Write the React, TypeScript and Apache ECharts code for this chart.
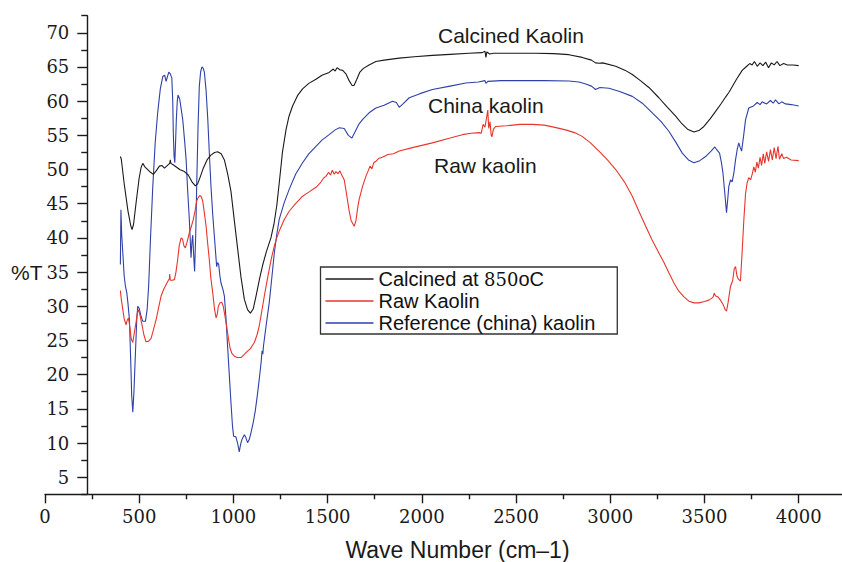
import React, { useEffect, useRef } from "react";
import * as echarts from "echarts";

// Wavenumber (cm-1), %T pairs
const calcined: [number, number][] = [
  [400, 51.9], [405, 51.5], [420, 48], [440, 44], [455, 41.8], [462, 41.2], [470, 42], [485, 45.5],
  [500, 48.8], [510, 50.3], [519, 50.9], [530, 50.4], [545, 50.0], [560, 49.6], [575, 49.3], [590, 49.8],
  [607, 50.5], [620, 50.6], [634, 50.2], [650, 50.6], [662, 50.9], [665, 51.4], [668, 50.9], [680, 50.7],
  [695, 50.4], [715, 50.0], [740, 49.7], [760, 49.2], [780, 48.2], [798, 47.6], [810, 47.9], [825, 49.0],
  [840, 50.2], [860, 51.4], [880, 52.1], [900, 52.5], [916, 52.6], [935, 52.3], [952, 51.4], [970, 49.3],
  [987, 46.8], [1005, 42.5], [1022, 38.5], [1040, 34.3], [1058, 31.0], [1075, 29.5], [1090, 29.0], [1105, 29.6],
  [1120, 31.5], [1140, 34.2], [1155, 36.0], [1175, 38.0], [1199, 40.0], [1215, 42.0], [1230, 44.7], [1245, 48.5],
  [1260, 52.5], [1279, 55.8], [1295, 57.8], [1314, 59.3], [1340, 60.8], [1367, 61.8], [1400, 62.6], [1438, 63.2],
  [1470, 63.8], [1508, 64.2], [1530, 64.7], [1540, 64.4], [1550, 64.9], [1565, 64.6], [1580, 64.5], [1597, 64.0],
  [1614, 63.0], [1630, 62.3], [1640, 62.3], [1655, 63.2], [1670, 64.2], [1690, 64.8], [1720, 65.3], [1756, 65.8],
  [1800, 66.0], [1880, 66.3], [1960, 66.5], [2056, 66.7], [2150, 66.85], [2250, 67.0], [2320, 67.1], [2335, 67.3],
  [2340, 66.4], [2345, 67.2], [2360, 66.9], [2380, 67.0], [2500, 67.0], [2600, 67.0], [2700, 66.95], [2780, 66.8],
  [2851, 66.4], [2900, 66.0], [2922, 65.6], [2940, 65.55], [2960, 65.6], [3029, 65.1], [3080, 64.5], [3117, 63.9],
  [3160, 63.0], [3205, 62.0], [3258, 60.5], [3300, 59.2], [3347, 57.8], [3380, 56.7], [3410, 55.9], [3444, 55.5],
  [3470, 55.7], [3497, 56.3], [3530, 57.4], [3559, 58.5], [3590, 59.7], [3612, 60.6], [3630, 61.3], [3647, 62.1],
  [3670, 63.2], [3700, 64.5], [3720, 65.0], [3740, 65.5], [3753, 65.3], [3765, 65.8], [3780, 65.1], [3795, 65.6],
  [3810, 65.2], [3825, 65.7], [3840, 64.9], [3855, 65.6], [3870, 65.3], [3885, 65.8], [3900, 65.2], [3920, 65.5],
  [3940, 65.3], [3970, 65.3], [4000, 65.2],
];

const rawKaolin: [number, number][] = [
  [400, 32.3], [405, 31.0], [413, 29.5], [420, 28.2], [430, 27.3], [437, 28.0], [443, 28.3], [450, 27.0],
  [458, 25.2], [466, 24.7], [475, 26.3], [484, 27.8], [490, 29.0], [497, 29.5], [505, 28.6], [516, 27.1],
  [525, 25.8], [536, 24.8], [550, 24.9], [563, 25.3], [575, 26.5], [590, 28.1], [603, 29.8], [616, 31.5],
  [630, 32.5], [643, 33.2], [655, 33.8], [660, 34.0], [662, 34.7], [665, 33.8], [675, 33.8], [687, 33.9],
  [695, 35.0], [704, 36.8], [712, 38.8], [722, 40.0], [730, 39.8], [738, 38.8], [745, 38.55], [755, 39.5],
  [766, 40.75], [777, 41.7], [787, 42.7], [796, 43.9], [805, 45.4], [815, 46.0], [823, 46.2], [830, 46.0],
  [837, 45.4], [845, 43.8], [855, 41.7], [863, 39.3], [872, 36.8], [880, 34.2], [890, 32.0], [900, 29.5],
  [908, 28.3], [914, 28.8], [920, 30.0], [929, 30.5], [938, 30.6], [946, 30.0], [955, 28.6], [964, 27.1],
  [973, 25.4], [982, 23.9], [992, 23.1], [1005, 22.7], [1020, 22.5], [1040, 22.5], [1055, 22.9], [1075, 23.45],
  [1090, 23.8], [1111, 24.7], [1125, 25.8], [1137, 27.1], [1150, 29.2], [1164, 31.5], [1177, 33.5], [1190, 35.4],
  [1203, 37.2], [1217, 38.8], [1230, 40.0], [1243, 41.0], [1270, 42.7], [1296, 43.9], [1330, 45.0], [1367, 46.1],
  [1400, 46.7], [1438, 47.4], [1460, 48.0], [1480, 48.8], [1491, 49.0], [1505, 49.6], [1515, 49.2], [1525, 49.9],
  [1535, 49.3], [1544, 49.7], [1555, 49.4], [1565, 49.8], [1575, 49.2], [1588, 48.5], [1600, 46.5], [1614, 44.0],
  [1625, 42.5], [1641, 41.7], [1650, 42.5], [1660, 44.5], [1667, 45.6], [1685, 47.5], [1703, 49.0], [1715, 49.8],
  [1725, 50.5], [1735, 50.1], [1745, 51.0], [1756, 51.2], [1770, 51.6], [1790, 51.8], [1820, 52.2], [1850, 52.3],
  [1880, 52.7], [1950, 53.2], [2056, 53.9], [2150, 54.6], [2215, 55.1], [2260, 55.3], [2304, 55.4], [2315, 55.3],
  [2325, 56.6], [2335, 56.2], [2343, 57.5], [2350, 58.7], [2355, 56.0], [2362, 57.0], [2368, 55.0], [2372, 54.8],
  [2380, 55.9], [2392, 56.3], [2450, 56.4], [2520, 56.6], [2586, 56.6], [2650, 56.5], [2700, 56.2], [2763, 55.8],
  [2810, 55.4], [2851, 54.85], [2895, 53.9], [2940, 52.7], [2985, 51.4], [3029, 50.0], [3075, 48.2], [3117, 46.1],
  [3150, 44.0], [3188, 41.7], [3220, 39.8], [3258, 37.8], [3285, 36.4], [3311, 34.9], [3340, 33.3], [3364, 32.2],
  [3390, 31.4], [3417, 30.75], [3445, 30.5], [3470, 30.5], [3500, 30.7], [3523, 30.9], [3545, 31.3], [3552, 31.9],
  [3559, 31.5], [3570, 31.4], [3585, 30.9], [3600, 30.2], [3610, 29.5], [3617, 29.3], [3625, 30.5], [3638, 32.9],
  [3650, 33.8], [3658, 35.5], [3665, 35.8], [3672, 34.5], [3679, 34.0], [3691, 33.7], [3700, 38.0], [3709, 42.7],
  [3718, 46.5], [3726, 48.0], [3735, 48.8], [3745, 48.5], [3753, 49.3], [3762, 50.4], [3770, 49.6], [3778, 51.1],
  [3786, 50.2], [3795, 51.8], [3803, 50.6], [3812, 52.3], [3820, 50.9], [3830, 52.6], [3840, 51.2], [3850, 52.9],
  [3860, 51.4], [3870, 53.2], [3880, 51.6], [3890, 53.4], [3898, 51.5], [3910, 52.3], [3920, 51.6], [3935, 51.8],
  [3960, 51.4], [4000, 51.3],
];

const chinaKaolin: [number, number][] = [
  [400, 36.1], [403, 44.1], [407, 40.5], [413, 37.8], [420, 34.5], [427, 32.9], [434, 32.0], [440, 30.5],
  [448, 28.1], [455, 22], [460, 17], [466, 14.5], [472, 17.5], [480, 23.2], [487, 28], [492, 30.0],
  [500, 29.7], [510, 28.5], [519, 27.8], [533, 27.8], [542, 29.5], [550, 32.9], [560, 40], [572, 47.5],
  [585, 54], [598, 58.3], [612, 61.8], [625, 63.6], [635, 63.8], [643, 62.9], [650, 63.6], [657, 64.25],
  [665, 64.0], [673, 63.4], [678, 60], [681, 55.35], [685, 52], [689, 51.0], [693, 54], [697, 57.3],
  [702, 60.0], [706, 60.9], [715, 60.3], [731, 57.3], [740, 54.5], [749, 51.45], [757, 47], [766, 42.7],
  [775, 37.1], [780, 39.5], [784, 40.4], [789, 37.5], [794, 35.1], [800, 40.5], [805, 47.5], [812, 56],
  [819, 62.2], [826, 64.3], [833, 65.0], [840, 64.8], [846, 64.2], [855, 61.5], [864, 57.3], [872, 52.5],
  [881, 47.5], [890, 43.5], [899, 40.2], [911, 35.8], [916, 36.4], [922, 36.1], [928, 34.5], [934, 33.4],
  [945, 32.4], [952, 31.5], [960, 28.5], [969, 24.2], [978, 20], [987, 15.9], [995, 12.5], [1001, 11.0],
  [1013, 10.9], [1022, 10.0], [1031, 8.7], [1038, 9.8], [1045, 10.5], [1058, 11.2], [1066, 10.8], [1075, 10.05],
  [1084, 10.5], [1093, 11.5], [1105, 13.0], [1116, 14.7], [1127, 17.0], [1137, 19.3], [1147, 21.8], [1152, 23.5],
  [1156, 23.0], [1160, 24.3], [1175, 27.5], [1190, 30.5], [1205, 34.5], [1217, 37.8], [1230, 40.5], [1243, 42.7],
  [1270, 45.2], [1296, 47.1], [1330, 49.3], [1367, 51.0], [1400, 52.3], [1438, 53.4], [1470, 54.3], [1508, 55.1],
  [1540, 55.8], [1562, 56.1], [1588, 56.0], [1610, 55.0], [1629, 54.6], [1645, 55.5], [1665, 56.6], [1685, 57.3],
  [1720, 58.3], [1756, 59.0], [1800, 59.4], [1844, 60.0], [1865, 59.8], [1880, 59.1], [1900, 59.6], [1933, 60.5],
  [1990, 61.1], [2056, 61.7], [2150, 62.2], [2233, 62.65], [2300, 62.8], [2335, 63.0], [2340, 62.6], [2350, 62.9],
  [2420, 63.0], [2500, 63.0], [2650, 63.0], [2780, 62.95], [2834, 62.8], [2870, 62.5], [2900, 62.2], [2922, 61.7],
  [2945, 62.0], [2993, 61.9], [3050, 61.4], [3117, 60.7], [3170, 59.7], [3223, 58.3], [3270, 57.0], [3311, 55.6],
  [3350, 53.9], [3382, 52.4], [3415, 51.4], [3444, 51.0], [3475, 51.3], [3506, 51.9], [3535, 52.7], [3555, 53.3],
  [3565, 52.9], [3580, 52.4], [3590, 51.0], [3598, 49.5], [3608, 46.5], [3617, 43.7], [3623, 45.5], [3629, 47.5],
  [3638, 48.5], [3647, 48.2], [3656, 49.5], [3665, 51.45], [3674, 53.0], [3682, 53.9], [3690, 53.2], [3697, 52.7],
  [3708, 55.0], [3718, 57.3], [3735, 59.0], [3760, 59.3], [3780, 59.8], [3795, 59.5], [3806, 59.9], [3830, 59.6],
  [3850, 60.1], [3865, 59.7], [3877, 60.2], [3895, 59.6], [3910, 59.9], [3930, 59.6], [3960, 59.5], [4000, 59.3],
];

const seriesNames = ["Calcined at 850oC", "Raw Kaolin", "Reference (china) kaolin"];
const seriesColors = ["#1a1a1a", "#e8352c", "#2f40a8"];
const xLastLabel = 4000;
const yMajorTicks = [5, 10, 15, 20, 25, 30, 35, 40, 45, 50, 55, 60, 65, 70];
const yMinorTicks = [2.5, 7.5, 12.5, 17.5, 22.5, 27.5, 32.5, 37.5, 42.5, 47.5, 52.5, 57.5, 62.5, 67.5, 72.5];
const curveLabels = [
  { text: "Calcined Kaolin", x: 438, y: 35 },
  { text: "China kaolin", x: 428, y: 105 },
  { text: "Raw kaolin", x: 434, y: 165 },
];
const xTitle = "Wave Number (cm–1)";
const yTitle = "%T";

export default function App() {
  const ref = useRef<HTMLDivElement>(null);
  useEffect(() => {
    if (!ref.current) return;
    const chart = echarts.init(ref.current, null, { renderer: "svg" });
    const axisColor = "#1a1a1a";
    const sans = "Liberation Sans";
    const serif = "DejaVu Serif";
    const datasets = [calcined, rawKaolin, chinaKaolin];
    chart.setOption({
      animation: false,
      backgroundColor: "#ffffff",
      grid: {
        left: 45,
        right: -50.9,
        top: 15.7,
        bottom: 67.7,
        containLabel: false,
        outerBoundsMode: "none",
      },
      xAxis: {
        type: "value",
        min: 0,
        max: 4500,
        interval: 500,
        axisLine: { show: true, onZero: false, lineStyle: { color: axisColor, width: 1.4 } },
        axisTick: { show: true, inside: false, length: 9, lineStyle: { color: axisColor, width: 1.4 } },
        minorTick: { show: true, splitNumber: 2, length: 5, lineStyle: { color: axisColor, width: 1.4 } },
        axisLabel: {
          fontFamily: serif,
          fontSize: 18,
          color: "#1a1a1a",
          margin: 13,
          formatter: (v: number) => (v > xLastLabel ? "" : String(v)),
        },
        splitLine: { show: false },
        minorSplitLine: { show: false },
      },
      yAxis: [
        {
          type: "value",
          min: 2.5,
          max: 72.5,
          interval: 5,
          offset: -42.3,
          position: "left",
          axisLine: { show: true, onZero: false, lineStyle: { color: axisColor, width: 1.4 } },
          axisTick: { show: true, inside: false, length: 10, customValues: yMajorTicks, lineStyle: { color: axisColor, width: 1.4 } },
          axisLabel: {
            fontFamily: serif,
            fontSize: 18,
            color: "#1a1a1a",
            margin: 18,
            customValues: yMajorTicks,
            formatter: (v: number) => String(v),
          },
          splitLine: { show: false },
        },
        {
          type: "value",
          min: 2.5,
          max: 72.5,
          interval: 5,
          offset: -42.3,
          position: "left",
          axisLine: { show: false },
          axisTick: { show: true, inside: false, length: 6, customValues: yMinorTicks, lineStyle: { color: axisColor, width: 1.4 } },
          axisLabel: { show: false },
          splitLine: { show: false },
        },
      ],
      legend: {
        orient: "vertical",
        left: 320.5,
        top: 267,
        data: seriesNames,
        icon: "rect",
        itemWidth: 48,
        itemHeight: 1.5,
        itemGap: 2,
        padding: [2, 22, 1, 5],
        backgroundColor: "#ffffff",
        borderColor: "#333333",
        borderWidth: 1.3,
        borderRadius: 0,
        selectedMode: false,
        formatter: (name: string) => name.replace("850", "{s|850}"),
        textStyle: {
          fontFamily: sans,
          fontSize: 20,
          color: "#111111",
          rich: { s: { fontFamily: serif, fontSize: 18, color: "#111111" } },
        },
      },
      series: datasets.map((d, i) => ({
        name: seriesNames[i],
        type: "line",
        xAxisIndex: 0,
        yAxisIndex: 0,
        symbol: "none",
        showSymbol: false,
        smooth: false,
        data: d,
        color: seriesColors[i],
        lineStyle: { color: seriesColors[i], width: 1.1 },
        z: 3 - i,
      })),
      graphic: [
        ...curveLabels.map((c) => ({
          type: "text",
          x: c.x,
          y: c.y,
          style: { text: c.text, fontFamily: sans, fontSize: 21, fill: "#1a1a1a", textVerticalAlign: "middle", textAlign: "left" },
        })),
        {
          type: "text",
          x: 11,
          y: 272.7,
          style: { text: yTitle, fontFamily: sans, fontSize: 21, fill: "#1a1a1a", textVerticalAlign: "middle", textAlign: "left" },
        },
        {
          type: "text",
          x: 457.5,
          y: 549.5,
          style: { text: xTitle, fontFamily: sans, fontSize: 23, fill: "#1a1a1a", textVerticalAlign: "middle", textAlign: "center" },
        },
      ],
    });
    return () => chart.dispose();
  }, []);
  return <div ref={ref} style={{ position: "absolute", left: 0, top: 0, width: 842, height: 562 }} />;
}
